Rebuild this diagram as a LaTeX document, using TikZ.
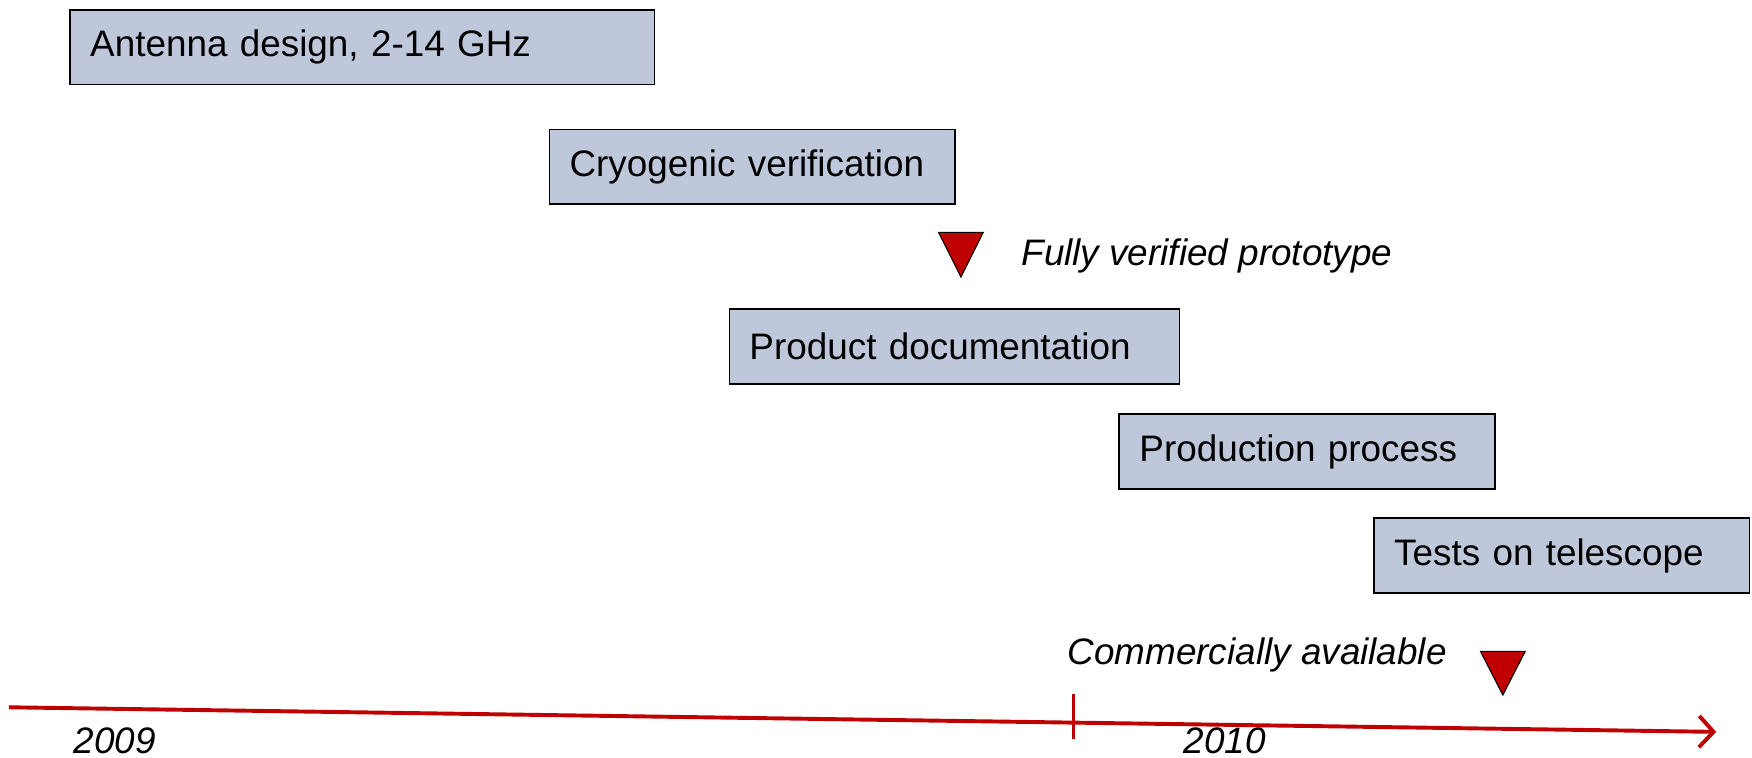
\documentclass[tikz,border=0pt]{standalone}
\usepackage{fontspec}
\setmainfont{Liberation Sans}
\usetikzlibrary{arrows.meta}
\definecolor{boxfill}{HTML}{BFC8DA}
\definecolor{tlred}{HTML}{C00000}
\begin{document}
\begin{tikzpicture}[x=1pt,y=-1pt,
  taskbox/.style={draw=black, line width=1.5pt, fill=boxfill, anchor=north west,
    minimum height=67pt, inner xsep=18pt, inner ysep=0pt, align=left,
    font=\fontsize{33}{40}\selectfont},
  milestone/.style={draw=black, line width=1pt, fill=tlred, line join=miter},
  mlabel/.style={font=\fontsize{33}{40}\selectfont\itshape, inner sep=0pt},
  axisline/.style={draw=tlred, line width=3.5pt},
]
\useasboundingbox (0,0) rectangle (1568,678);
% task boxes
\node[taskbox, text width=487pt] (t1) at (62,8) {Antenna design, 2-14 GHz};
\node[taskbox, text width=327pt] (t2) at (491,115) {Cryogenic verification};
\node[taskbox, text width=367pt] (t3) at (652,276) {Product documentation};
\node[taskbox, text width=300pt] (t4) at (1001,370) {Production process};
\node[taskbox, text width=300pt] (t5) at (1229,463) {Tests on telescope};
% milestones
\draw[milestone] (840,208) -- (880,208) -- (860,248) -- cycle;
\node[mlabel, anchor=west] (m1) at (914,229) {Fully verified prototype};
\draw[milestone] (1325,583) -- (1365,583) -- (1345,622) -- cycle;
\node[mlabel, anchor=east] (m2) at (1295,586) {Commercially available};
% axis
\coordinate (axs) at (8,633);
\coordinate (axe) at (1536,655);
\draw[axisline, -{Straight Barb[length=13pt,width=28pt]}] (axs) -- (axe);
\coordinate (tka) at (961,621);
\coordinate (tkb) at (961,661);
\draw[draw=tlred, line width=2.5pt] (tka) -- (tkb);
\node[mlabel, anchor=base west] (y1) at (66,674) {2009};
\node[mlabel, anchor=base west] (y2) at (1059,674) {2010};
\end{tikzpicture}
\end{document}
